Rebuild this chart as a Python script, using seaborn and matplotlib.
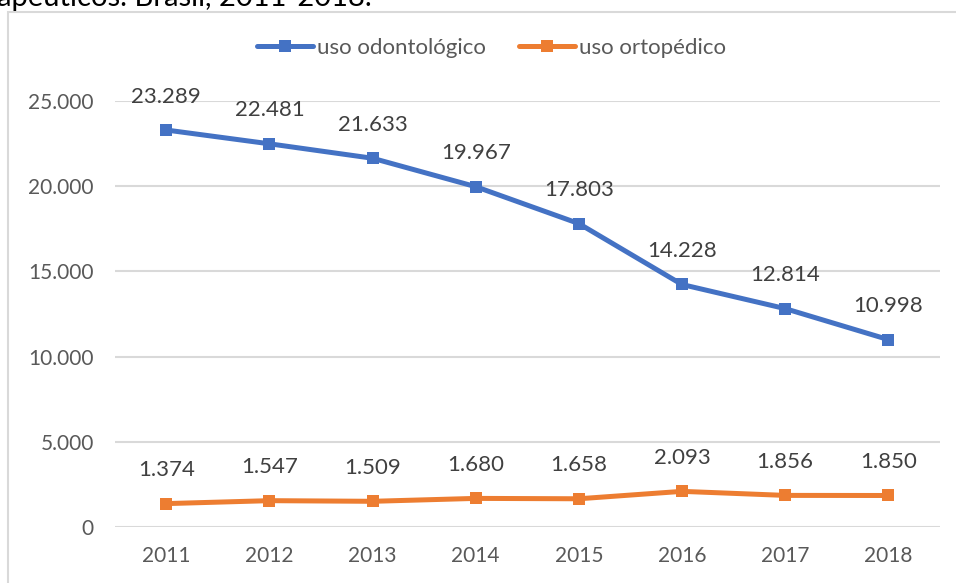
import pandas as pd
import matplotlib
matplotlib.use("Agg")
import matplotlib.pyplot as plt
import seaborn as sns
from matplotlib.ticker import FuncFormatter
from matplotlib.patches import Rectangle

# dados
anos = [2011, 2012, 2013, 2014, 2015, 2016, 2017, 2018]
odontologico = [23289, 22481, 21633, 19967, 17803, 14228, 12814, 10998]
ortopedico = [1374, 1547, 1509, 1680, 1658, 2093, 1856, 1850]
series = ["uso odontológico", "uso ortopédico"]
cores = ["#4472C4", "#ED7D31"]

df = pd.DataFrame({
    "ano": anos * 2,
    "valor": odontologico + ortopedico,
    "serie": [series[0]] * len(anos) + [series[1]] * len(anos),
})

sns.set_style("white")
plt.rcParams['font.family'] = ['Lato', 'DejaVu Sans']

def fmt(v, pos=None):
    return "{:,.0f}".format(v).replace(",", ".")

fig = plt.figure(figsize=(9.56, 5.83), dpi=100)
ax = fig.add_axes([0.120, 0.096, 0.863, 0.731])

sns.lineplot(data=df, x="ano", y="valor", hue="serie", palette=cores,
             marker="s", markersize=9, markeredgewidth=0, linewidth=3.6,
             dashes=False, ax=ax)

# rótulos de dados
for vals, cor in zip([odontologico, ortopedico], cores):
    for a, v in zip(anos, vals):
        ax.annotate(fmt(v), (a, v), xytext=(0, 24), textcoords="offset points",
                    ha="center", va="center", fontsize=16, color="#404040")

ax.set_xlim(2010.5, 2018.5)
ax.set_ylim(0, 25000)
ax.set_yticks([0, 5000, 10000, 15000, 20000, 25000])
ax.set_xticks(anos)
ax.yaxis.set_major_formatter(FuncFormatter(fmt))
ax.tick_params(axis="both", length=0, labelsize=15, labelcolor="#595959")
ax.tick_params(axis="x", pad=14)
ax.tick_params(axis="y", pad=15)
ax.grid(axis="y", color="#D9D9D9", linewidth=1.5)
ax.set_axisbelow(True)
for s in ax.spines.values():
    s.set_visible(False)
ax.set_xlabel("")
ax.set_ylabel("")

leg = ax.legend(loc="center", bbox_to_anchor=(0.457, 1.124), ncol=2, frameon=False,
                fontsize=16, handlelength=2.5, handletextpad=0.2, columnspacing=1.5)
for t in leg.get_texts():
    t.set_color("#595959")

# moldura do gráfico e título cortado (já cortado na imagem original)
fig.patches.append(Rectangle((8 / 956, -0.1), 1.1, (583 - 12) / 583 + 0.1,
                             transform=fig.transFigure, fill=False,
                             edgecolor="#D9D9D9", linewidth=1.5))
fig.text(-0.003, 1 - 6 / 583, "apêuticos. Brasil, 2011-2018.", fontsize=21,
         color="#000000", ha="left", va="baseline")

fig.savefig("out.png", dpi=100)
